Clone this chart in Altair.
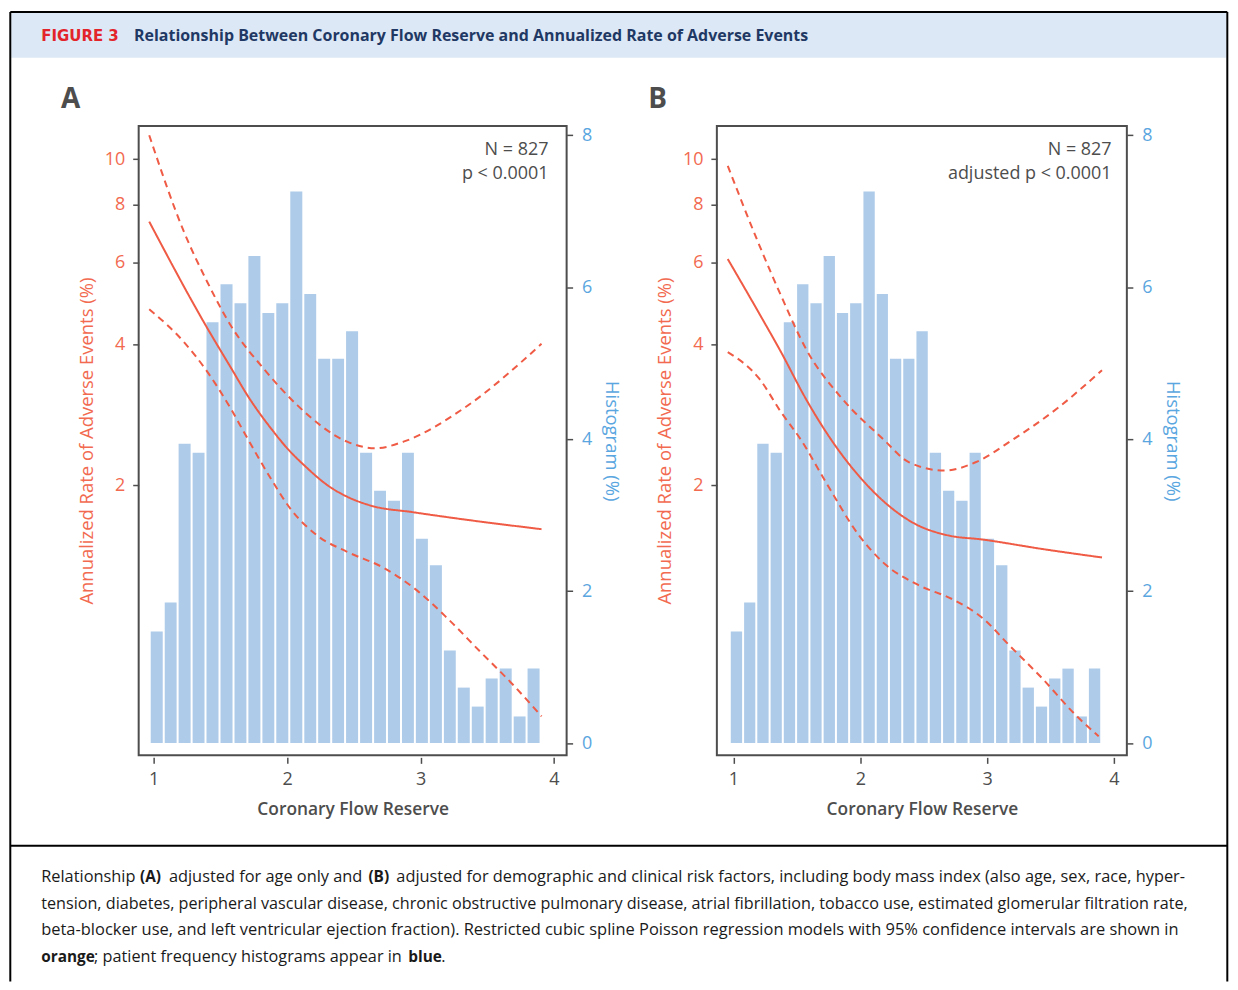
import altair as alt
import pandas as pd

# ---------------- data ----------------
bin_edges = [0.967, 1.072, 1.176, 1.281, 1.385, 1.490, 1.595, 1.699, 1.804, 1.908,
             2.013, 2.118, 2.222, 2.327, 2.431, 2.536, 2.641, 2.745, 2.850, 2.954,
             3.059, 3.164, 3.268, 3.373, 3.477, 3.582, 3.687, 3.791, 3.896]
hist_pct = [1.47, 1.85, 3.94, 3.82, 5.54, 6.04, 5.79, 6.41, 5.66, 5.79, 7.26, 5.91,
            5.06, 5.06, 5.42, 3.82, 3.32, 3.19, 3.82, 2.69, 2.34, 1.22, 0.73, 0.48,
            0.85, 0.98, 0.35, 0.98]

# Panel A (age adjusted)
a_fit_x = [0.967, 1.391, 1.590, 1.702, 1.901, 2.001, 2.126, 2.325, 2.450, 2.624, 2.948, 3.321, 3.907]
a_fit_y = [7.35, 4.40, 3.53, 3.12, 2.60, 2.40, 2.21, 1.98, 1.89, 1.81, 1.75, 1.69, 1.61]
a_up_x = [0.967, 1.229, 1.403, 1.578, 1.827, 2.076, 2.450, 2.661, 2.873, 3.321, 3.907]
a_up_y = [11.26, 6.97, 5.45, 4.40, 3.55, 2.97, 2.48, 2.40, 2.48, 2.92, 4.02]
a_lo_x = [0.967, 1.229, 1.403, 1.578, 1.690, 1.877, 2.026, 2.226, 2.450, 2.724, 2.973, 3.197, 3.446, 3.695, 3.907]
a_lo_y = [4.77, 4.05, 3.50, 2.92, 2.56, 2.07, 1.78, 1.56, 1.44, 1.33, 1.19, 1.04, 0.88, 0.746, 0.639]

# Panel B (multivariable adjusted)
b_fit_x = [0.955, 1.205, 1.375, 1.572, 1.781, 2.005, 2.201, 2.437, 2.699, 2.961, 3.434, 3.906]
b_fit_y = [6.11, 4.66, 3.86, 3.06, 2.48, 2.07, 1.83, 1.65, 1.56, 1.53, 1.46, 1.40]
b_up_x = [0.955, 1.205, 1.375, 1.572, 1.860, 2.175, 2.385, 2.660, 2.909, 3.198, 3.565, 3.906]
b_up_y = [9.68, 6.53, 5.10, 3.92, 3.06, 2.52, 2.24, 2.15, 2.24, 2.50, 2.94, 3.53]
b_lo_x = [0.955, 1.205, 1.375, 1.533, 1.729, 1.991, 2.201, 2.437, 2.752, 2.961, 3.172, 3.434, 3.696, 3.880]
b_lo_y = [3.86, 3.38, 2.87, 2.50, 2.03, 1.56, 1.35, 1.23, 1.13, 1.04, 0.909, 0.771, 0.644, 0.579]

x_ticks = [1, 2, 3, 4]
rate_ticks = [2, 4, 6, 8, 10]
hist_ticks = [0, 2, 4, 6, 8]

fig_label = "FIGURE 3"
fig_title = "Relationship Between Coronary Flow Reserve and Annualized Rate of Adverse Events"
caption_lines = [
    [("Relationship", "normal", 40), ("(A)", "bold", 139), ("adjusted for age only and", "normal", 168),
     ("(B)", "bold", 368),
     ("adjusted for demographic and clinical risk factors, including body mass index (also age, sex, race, hyper-", "normal", 396)],
    [("tension, diabetes, peripheral vascular disease, chronic obstructive pulmonary disease, atrial fibrillation, tobacco use, estimated glomerular filtration rate,", "normal", 40)],
    [("beta-blocker use, and left ventricular ejection fraction). Restricted cubic spline Poisson regression models with 95% confidence intervals are shown in", "normal", 40)],
    [("orange", "bold", 40), ("; patient frequency histograms appear in", "normal", 93), ("blue", "bold", 408), (".", "normal", 441)],
]
caption_y = [876, 903, 929, 956]
caption_size = [16.4, 16.2, 16.5, 16.3]

# ---------------- style ----------------
RED = "#ef5b45"
RED_LBL = "#f26a50"
BLUE = "#aecbe9"
BLUE_LBL = "#5aa6e0"
GRAY = "#4d4d4d"
FONT = "Open Sans"

# page positions of panel A plot area origin
OX, OY = 137.7, 123.3
RIGHT = 1229   # page x of right border line
BOTTOM = 981   # page y where the side border lines stop
one = pd.DataFrame({"k": [0]})


def txt(s, x, y, size, color, weight="normal", font=FONT, align="left"):
    return alt.Chart(one).mark_text(
        text=s, align=align, baseline="middle", fontSize=size, fontWeight=weight,
        font=font, color=color
    ).encode(x=alt.value(x), y=alt.value(y))


def hrule(x1, x2, y, color="black", w=2):
    return alt.Chart(one).mark_rule(color=color, strokeWidth=w).encode(
        x=alt.value(x1), x2=alt.value(x2), y=alt.value(y))


def vrule(x, y1, y2, color="black", w=2):
    return alt.Chart(one).mark_rule(color=color, strokeWidth=w).encode(
        x=alt.value(x), y=alt.value(y1), y2=alt.value(y2))


def panel(letter, fx, fy, ux, uy, lx, ly, ptext, xdom, letter_x, text_right):
    hist_df = pd.DataFrame({"lo": bin_edges[:-1], "hi": bin_edges[1:], "pct": hist_pct})
    line_df = pd.concat([
        pd.DataFrame({"cfr": fx, "rate": fy, "series": "fit"}),
        pd.DataFrame({"cfr": ux, "rate": uy, "series": "upper"}),
        pd.DataFrame({"cfr": lx, "rate": ly, "series": "lower"}),
    ])
    xscale = alt.Scale(domain=xdom, nice=False, zero=False)
    xaxis = alt.Axis(values=x_ticks, title="Coronary Flow Reserve", domain=False, grid=False,
                     tickSize=6, offset=2, labelPadding=7, titlePadding=12,
                     labelColor=GRAY, titleColor=GRAY, titleFontWeight=600,
                     labelFontSize=18, titleFontSize=17.4)
    bars = alt.Chart(hist_df).mark_bar(color=BLUE, binSpacing=2).encode(
        x=alt.X("lo:Q", bin="binned", scale=xscale, axis=xaxis),
        x2="hi:Q",
        y=alt.Y("pct:Q", scale=alt.Scale(domain=[-0.162, 8.124], nice=False, zero=False),
                axis=alt.Axis(orient="right", values=hist_ticks, title="Histogram (%)",
                              domain=False, grid=False, tickSize=6, labelPadding=9,
                              titlePadding=10, labelColor=BLUE_LBL, titleColor=BLUE_LBL,
                              titleFontWeight="normal", labelFontSize=18, titleFontSize=18.5)),
    )
    lines = alt.Chart(line_df).mark_line(color=RED, strokeWidth=2, interpolate="monotone").encode(
        x=alt.X("cfr:Q", scale=xscale, axis=xaxis),
        y=alt.Y("rate:Q", scale=alt.Scale(type="log", domain=[0.527, 11.79], nice=False),
                axis=alt.Axis(orient="left", values=rate_ticks, title="Annualized Rate of Adverse Events (%)",
                              domain=False, grid=False, tickSize=6, labelPadding=8,
                              titlePadding=8, labelColor=RED_LBL, titleColor=RED_LBL,
                              titleFontWeight="normal", labelFontSize=18, titleFontSize=18.5)),
        strokeDash=alt.StrokeDash("series:N",
                                  scale=alt.Scale(domain=["fit", "upper", "lower"],
                                                  range=[[1, 0], [7, 5], [7, 5]]),
                                  legend=None),
    )
    layers = [bars, lines,
              txt("N = 827", text_right, 24.5, 18, GRAY, align="right"),
              txt(ptext, text_right, 48, 18, GRAY, align="right"),
              txt(letter, letter_x, -26.3, 28, GRAY, weight="bold", align="center")]
    return layers


# ---------------- decorations (drawn in panel A coordinates) ----------------
deco = [
    alt.Chart(one).mark_rect(color="#dce8f5").encode(
        x=alt.value(10 - OX), x2=alt.value(RIGHT - 1 - OX), y=alt.value(10 - OY), y2=alt.value(55 - OY)),
    hrule(9 - OX, RIGHT - OX, 9 - OY),
    vrule(9 - OX, 9 - OY, BOTTOM - OY),
    vrule(RIGHT - OX, 9 - OY, BOTTOM - OY),
    hrule(9 - OX, RIGHT - OX, 845 - OY),
    txt(fig_label, 40 - OX, 33 - OY, 15, "#e3242b", weight="bold", font="DejaVu Sans"),
    txt(fig_title, 133 - OX, 33 - OY, 16, "#1f3864", weight="bold", font="Open Sans"),
]
for segs, yy, sz in zip(caption_lines, caption_y, caption_size):
    for s, w, xx in segs:
        size = 15.4 if w == "bold" else sz
        deco.append(txt(s, xx - OX, yy - OY, size, "#1a1a1a", weight=w, font="Open Sans"))

a_layers = panel("A", a_fit_x, a_fit_y, a_up_x, a_up_y, a_lo_x, a_lo_y, "p < 0.0001",
                 [0.888, 4.095], 69.5 - OX, 548.5 - OX)
b_layers = panel("B", b_fit_x, b_fit_y, b_up_x, b_up_y, b_lo_x, b_lo_y, "adjusted p < 0.0001",
                 [0.869, 4.102], 658 - 717.3, 1113 - 717.3)

panelA = alt.layer(*(deco + a_layers)).resolve_scale(y="independent").properties(width=429, height=631)
panelB = alt.layer(*b_layers).resolve_scale(y="independent").properties(width=411, height=631)

chart = alt.hconcat(panelA, panelB, spacing=150.6, bounds="flush").properties(
    padding=0, background="white"
).configure_view(stroke=GRAY, strokeWidth=2).configure_axis(
    labelFont=FONT, titleFont=FONT, tickColor=GRAY, tickWidth=1.5
)

chart.save("out.html", embed_options={"renderer": "svg", "actions": False})
